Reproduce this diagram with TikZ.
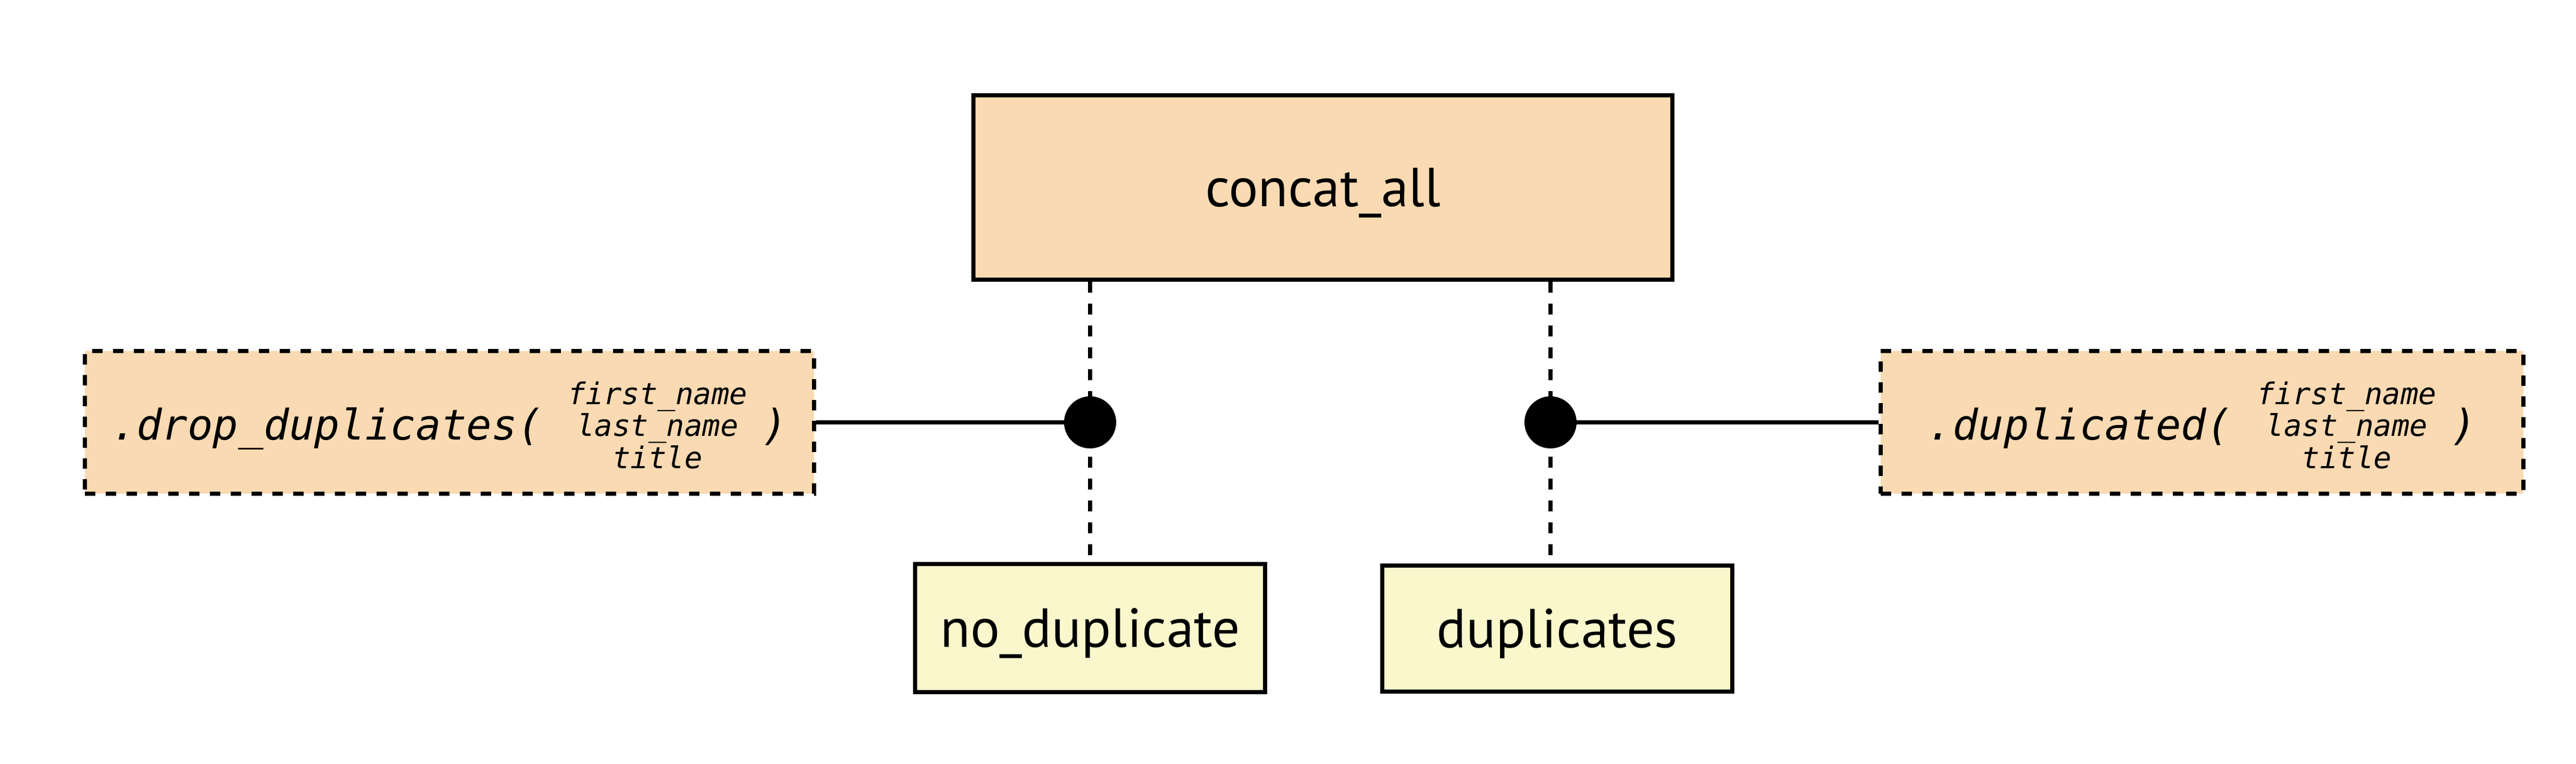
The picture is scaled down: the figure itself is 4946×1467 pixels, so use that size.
\documentclass[tikz,border=0pt]{standalone}
\usepackage{fontspec}
\setmainfont{PT Sans}
\newfontfamily\codefont{DejaVu Sans Mono}
\definecolor{peach}{HTML}{F9DAB3}
\definecolor{cream}{HTML}{FAF7CC}
\newcommand\labelfont{\fontsize{30pt}{36pt}\selectfont}
\newcommand\bigcode{\codefont\itshape\fontsize{23pt}{28pt}\selectfont}
\newcommand\argstack{\raisebox{0.04cm}{\fontsize{16.3pt}{16.6pt}\selectfont\begin{tabular}{@{}c@{}}first\_name\\last\_name\\title\end{tabular}}}
\tikzset{
  ln/.style={line width=0.08cm},
  dsh/.style={line width=0.08cm, dash pattern=on 0.21cm off 0.21cm},
  solidbox/.style={draw, ln, rectangle, inner sep=0pt, font=\labelfont,
    text height=0.78cm, text depth=0.06cm},
  dotbox/.style={draw, line width=0.08cm, dash pattern=on 0.2cm off 0.2cm,
    fill=peach, rectangle, inner sep=0pt, font=\bigcode,
    text height=1.0cm, text depth=0.34cm},
  junction/.style={circle, fill=black, draw=none, minimum size=1cm, inner sep=0pt}
}
\begin{document}
\begin{tikzpicture}[x=0.01cm, y=-0.01cm]
\useasboundingbox (0,0) rectangle (4946,1467);
\node[solidbox, fill=peach, minimum width=13.41cm, minimum height=3.54cm] (concat) at (2540,360) {concat\_all};
\node[solidbox, fill=cream, minimum width=6.72cm, minimum height=2.45cm] (nodup) at (2093,1206) {no\_duplicate};
\node[solidbox, fill=cream, minimum width=6.71cm, minimum height=2.41cm] (dup) at (2990,1207) {duplicates};
\node[dotbox, minimum width=14.0cm, minimum height=2.74cm] (drop) at (863,811)
  {.drop\_duplicates(\hspace{0.48cm}\argstack\hspace{0.28cm})};
\node[dotbox, minimum width=12.33cm, minimum height=2.74cm] (dupd) at (4228,811)
  {.duplicated(\hspace{0.48cm}\argstack\hspace{0.28cm})};
\coordinate (j1) at (2093,811);
\coordinate (j2) at (2977,811);
\draw[dsh] (concat.south -| j1) -- (nodup.north -| j1);
\draw[dsh] (concat.south -| j2) -- (dup.north -| j2);
\draw[ln] (drop.east) -- (j1);
\draw[ln] (j2) -- (dupd.west);
\node[junction] (dot1) at (j1) {};
\node[junction] (dot2) at (j2) {};
\end{tikzpicture}
\end{document}
